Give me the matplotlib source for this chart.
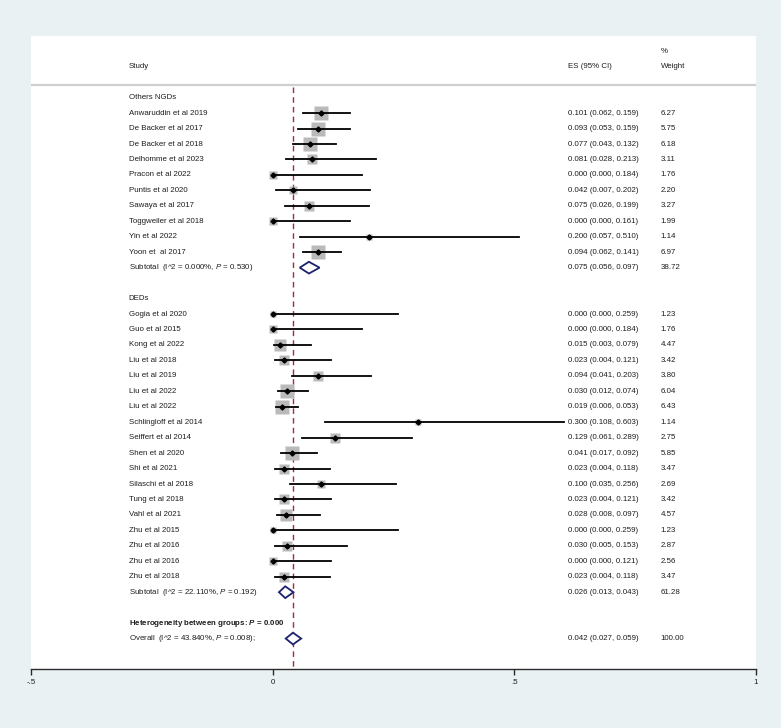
#!/usr/bin/env python3
"""
Forest plot: event rates in Others NGDs and DEDs subgroups.
"""

import numpy as np
import matplotlib

matplotlib.use("Agg")
import matplotlib.pyplot as plt

plt.rcParams["font.family"] = ["Liberation Sans", "DejaVu Sans"]
plt.rcParams["mathtext.fontset"] = "custom"
plt.rcParams["mathtext.rm"] = "Liberation Sans"
plt.rcParams["mathtext.it"] = "Liberation Sans:italic"
plt.rcParams["mathtext.bf"] = "Liberation Sans:bold"
plt.rcParams["mathtext.bfit"] = "Liberation Sans:bold:italic"

# ---- data ----
ngd_studies = ["Anwaruddin et al 2019", "De Backer et al 2017", "De Backer et al 2018",
               "Delhomme et al 2023", "Pracon et al 2022", "Puntis et al 2020",
               "Sawaya et al 2017", "Toggweiler et al 2018", "Yin et al 2022",
               "Yoon et  al 2017"]
ngd_es = [0.101, 0.093, 0.077, 0.081, 0.000, 0.042, 0.075, 0.000, 0.200, 0.094]
ngd_lo = [0.062, 0.053, 0.043, 0.028, 0.000, 0.007, 0.026, 0.000, 0.057, 0.062]
ngd_hi = [0.159, 0.159, 0.132, 0.213, 0.184, 0.202, 0.199, 0.161, 0.510, 0.141]
ngd_w = [6.27, 5.75, 6.18, 3.11, 1.76, 2.20, 3.27, 1.99, 1.14, 6.97]
ngd_sub = (0.075, 0.056, 0.097, 38.72)
ngd_het = ("0.000%", "0.530")

ded_studies = ["Gogia et al 2020", "Guo et al 2015", "Kong et al 2022", "Liu et al 2018",
               "Liu et al 2019", "Liu et al 2022", "Liu et al 2022", "Schlingloff et al 2014",
               "Seiffert et al 2014", "Shen et al 2020", "Shi et al 2021",
               "Silaschi et al 2018", "Tung et al 2018", "Vahl et al 2021",
               "Zhu et al 2015", "Zhu et al 2016", "Zhu et al 2016", "Zhu et al 2018"]
ded_es = [0.000, 0.000, 0.015, 0.023, 0.094, 0.030, 0.019, 0.300, 0.129, 0.041,
          0.023, 0.100, 0.023, 0.028, 0.000, 0.030, 0.000, 0.023]
ded_lo = [0.000, 0.000, 0.003, 0.004, 0.041, 0.012, 0.006, 0.108, 0.061, 0.017,
          0.004, 0.035, 0.004, 0.008, 0.000, 0.005, 0.000, 0.004]
ded_hi = [0.259, 0.184, 0.079, 0.121, 0.203, 0.074, 0.053, 0.603, 0.289, 0.092,
          0.118, 0.256, 0.121, 0.097, 0.259, 0.153, 0.121, 0.118]
ded_w = [1.23, 1.76, 4.47, 3.42, 3.80, 6.04, 6.43, 1.14, 2.75, 5.85,
         3.47, 2.69, 3.42, 4.57, 1.23, 2.87, 2.56, 3.47]
ded_sub = (0.026, 0.013, 0.043, 61.28)
ded_het = ("22.110%", "0.192")

between_p = "0.000"
overall = (0.042, 0.027, 0.059, 100.00)
overall_het = ("43.840%", "0.008")

xticks = [-0.5, 0, 0.5, 1]
xtick_labels = ["-.5", "0", ".5", "1"]

# ---- layout ----
BG = "#e9f1f3"
TXT = "#1e1e1e"
FS = 5.7
X_LABEL, X_ES, X_W = -0.298, 0.611, 0.803


def ci_text(es, lo, hi):
    return f"{es:.3f} ({lo:.3f}, {hi:.3f})"


def draw_study(ax, row, name, es, lo, hi, w):
    y = -row
    ax.plot(es, y, marker="s", ms=3.95 * np.sqrt(w), color="#bababa", mec="none", zorder=2)
    ax.plot([lo, hi], [y, y], color="black", lw=1.3, zorder=3)
    ax.plot(es, y, marker="D", ms=2.6, color="black", zorder=4)
    ax.text(X_LABEL, y, name, fontsize=FS, color=TXT, va="center")
    ax.text(X_ES, y, ci_text(es, lo, hi), fontsize=FS, color=TXT, va="center")
    ax.text(X_W, y, f"{w:.2f}", fontsize=FS, color=TXT, va="center")


def draw_diamond(ax, row, label, es, lo, hi, w):
    y = -row
    h = 0.38
    ax.fill([lo, es, hi, es, lo], [y, y + h, y, y - h, y], facecolor="white",
            edgecolor="#1c2270", lw=1.3, zorder=4)
    ax.text(X_LABEL, y, label, fontsize=FS, color=TXT, va="center")
    ax.text(X_ES, y, ci_text(es, lo, hi), fontsize=FS, color=TXT, va="center")
    ax.text(X_W, y, f"{w:.2f}", fontsize=FS, color=TXT, va="center")


def main() -> None:
    fig = plt.figure(figsize=(7.81, 7.28), dpi=100, facecolor=BG)
    ax = fig.add_axes([31 / 781, 59 / 728, 725 / 781, 633 / 728])
    ax.set_facecolor("white")

    # header
    ax.text(X_LABEL, 2.0, "Study", fontsize=FS, color=TXT, va="center")
    ax.text(X_ES, 2.0, "ES (95% CI)", fontsize=FS, color=TXT, va="center")
    ax.text(X_W, 2.0, "Weight", fontsize=FS, color=TXT, va="center")
    ax.text(X_W, 2.98, "%", fontsize=FS, color=TXT, va="center")
    ax.axhline(0.82, color="#cfcfcf", lw=1.6, zorder=1)

    row = 0
    ax.text(X_LABEL, -row, "Others NGDs", fontsize=FS, color=TXT, va="center")
    for i, name in enumerate(ngd_studies):
        row += 1
        draw_study(ax, row, name, ngd_es[i], ngd_lo[i], ngd_hi[i], ngd_w[i])
    row += 1
    draw_diamond(ax, row, rf"Subtotal  (I^2 = {ngd_het[0]}, $\it{{P}}$ = {ngd_het[1]})", *ngd_sub)

    row += 2
    ax.text(X_LABEL, -row, "DEDs", fontsize=FS, color=TXT, va="center")
    for i, name in enumerate(ded_studies):
        row += 1
        draw_study(ax, row, name, ded_es[i], ded_lo[i], ded_hi[i], ded_w[i])
    row += 1
    draw_diamond(ax, row, rf"Subtotal  (I^2 = {ded_het[0]}, $\it{{P}}$ = {ded_het[1]})", *ded_sub)

    row += 2
    ax.text(X_LABEL, -row, rf"Heterogeneity between groups: $\mathbfit{{P}}$ = {between_p}",
            fontsize=FS, color=TXT, va="center", fontweight="bold")
    row += 1
    draw_diamond(ax, row, rf"Overall  (I^2 = {overall_het[0]}, $\it{{P}}$ = {overall_het[1]});",
                 *overall)

    # overall effect reference line
    ax.plot([overall[0], overall[0]], [0.69, -40], color="#a8283c", lw=1.0,
            dashes=(4, 3), zorder=1.5)

    ax.set_xlim(-0.5, 1.0)
    ax.set_ylim(-(row + 1.97), 3.99)
    ax.set_xticks(xticks)
    ax.set_xticklabels(xtick_labels, fontsize=FS, color=TXT)
    ax.set_yticks([])
    for side in ("top", "right", "left"):
        ax.spines[side].set_visible(False)
    ax.spines["bottom"].set_color("#2a2a2a")
    ax.spines["bottom"].set_linewidth(1.0)
    ax.tick_params(axis="x", direction="out", length=4.5, width=1.0, color="#2a2a2a", pad=3)

    fig.savefig("out.png", dpi=100, facecolor=BG)
    plt.close(fig)


if __name__ == "__main__":
    main()
